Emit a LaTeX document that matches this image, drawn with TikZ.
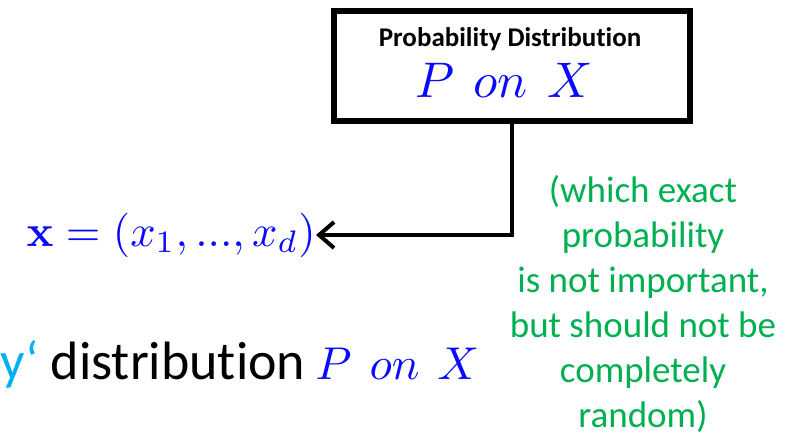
\documentclass[tikz,border=0pt]{standalone}
\usepackage{graphicx}
\usepackage[no-math]{fontspec}
\setmainfont[Ligatures={NoCommon}]{Carlito}
\usetikzlibrary{arrows.meta}
\definecolor{mygreen}{RGB}{0,176,80}
\definecolor{mycyan}{RGB}{0,176,240}
\definecolor{myblue}{RGB}{10,10,255}
\newcommand{\bigmath}[2]{{\fontsize{10}{12}\selectfont\scalebox{#1}{$#2$}}}
\newcommand{\ponx}{P\ \,on\ \,X}
\begin{document}
\begin{tikzpicture}[x=1pt,y=-1pt,
  boxstyle/.style={draw=black,line width=5.5pt,minimum width=356pt,minimum height=110pt,inner sep=0pt},
  conn/.style={line width=4pt,-{Straight Barb[length=15pt,width=26pt,line width=4pt]}},
  lbl/.style={inner sep=0pt,anchor=base}]
\useasboundingbox (0,0) rectangle (793,432);
\node[boxstyle] (box) at (512,66) {};
\node[lbl,font=\bfseries\fontsize{27}{32}\selectfont] (title) at (510,46) {Probability Distribution};
\node[lbl,text=myblue] (pon) at (504,97) {\bigmath{5}{\ponx}};
\node[inner sep=0pt,anchor=east,text=myblue] (xv) at (316,235) {\bigmath{4.45}{\mathbf{x}=(x_{1},...,x_{d})}};
\draw[conn] (box.south) |- (xv.east);
\node[inner sep=0pt,anchor=base west,font=\fontsize{54}{64}\selectfont] (dist) at (0,379) {\textcolor{mycyan}{y‘} distribution\hspace{-2pt} \textcolor{myblue}{\bigmath{4.6}{\ponx}}};
\node[lbl,align=center,text=mygreen,font=\fontsize{37}{45}\selectfont] (note) at (643,427) {(which exact\\probability\\is not important,\\but should not be\\completely\\random)};
\end{tikzpicture}
\end{document}
